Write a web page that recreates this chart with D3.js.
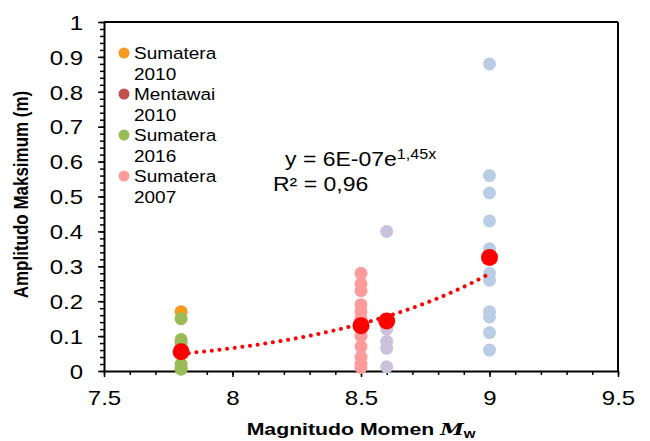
<!DOCTYPE html>
<html>
<head>
<meta charset="utf-8">
<script src="https://cdn.jsdelivr.net/npm/d3@7"></script>
<style>
  html, body { margin: 0; padding: 0; background: #fff; }
  svg { display: block; font-family: "Liberation Sans", Arial, sans-serif; }
</style>
</head>
<body>
<svg id="chart" width="650" height="441"></svg>
<script>
// Data
const sumatera2010 = [0.17];                                   // Mw 7.8
const mentawai2010 = [0.06];                                   // Mw 7.8 (hidden behind others)
const sumatera2016 = [0.15, 0.09, 0.08, 0.07, 0.06, 0.02, 0.01, 0.005]; // Mw 7.8
const sumatera2007 = [0.28, 0.25, 0.23, 0.19, 0.17, 0.15, 0.13, 0.10, 0.07, 0.04, 0.02, 0.01]; // Mw 8.5
const series86 = [0.40, 0.14, 0.12, 0.085, 0.065, 0.012];      // Mw 8.6
const series90 = [0.88, 0.56, 0.51, 0.43, 0.35, 0.34, 0.28, 0.26, 0.17, 0.155, 0.11, 0.06]; // Mw 9.0
const meanMw = [7.8, 8.5, 8.6, 9.0];
const meanAmp = [0.055, 0.13, 0.143, 0.325];
const trendA = 6e-7, trendB = 1.45;   // y = 6E-07 e^(1.45x)
const xTicks = [7.5, 8, 8.5, 9, 9.5];
const yTicks = [0, 0.1, 0.2, 0.3, 0.4, 0.5, 0.6, 0.7, 0.8, 0.9, 1];
const legendNames = [['Sumatera', '2010'], ['Mentawai', '2010'], ['Sumatera', '2016'], ['Sumatera', '2007']];

const svg = d3.select('#chart');
const x = d3.scaleLinear().domain([7.5, 9.5]).range([104, 618]);
const y = d3.scaleLinear().domain([0, 1]).range([371, 22]);
const fmt = d3.format('.1~f');
const SX = 1.2; // horizontal stretch of the text in the reference

const groups = [
  { mw: 7.8, vals: sumatera2010, color: '#f79a1e' },
  { mw: 7.8, vals: mentawai2010, color: '#c0504d' },
  { mw: 7.8, vals: sumatera2016, color: '#9bbb59' },
  { mw: 8.5, vals: sumatera2007, color: '#ff9b9b' },
  { mw: 8.6, vals: series86, color: '#ccc1da' },
  { mw: 9.0, vals: series90, color: '#b9cde5' }
];

// frame (top + right)
svg.append('line').attr('x1', x(7.5)).attr('x2', x(9.5)).attr('y1', y(1)).attr('y2', y(1))
  .attr('stroke', '#000').attr('stroke-width', 2);
svg.append('line').attr('x1', x(9.5)).attr('x2', x(9.5)).attr('y1', y(1)).attr('y2', y(0))
  .attr('stroke', '#000').attr('stroke-width', 2);

// minor ticks
svg.append('g').attr('transform', `translate(0,${y(0)})`)
  .call(d3.axisBottom(x).tickValues(d3.range(7.5, 9.51, 0.1)).tickSize(4).tickSizeOuter(0).tickFormat(''))
  .call(g => g.select('.domain').remove())
  .call(g => g.selectAll('line').attr('stroke', '#000').attr('stroke-width', 1.5));
svg.append('g').attr('transform', `translate(${x(7.5)},0)`)
  .call(d3.axisLeft(y).tickValues(d3.range(0, 1.001, 0.02)).tickSize(4).tickSizeOuter(0).tickFormat(''))
  .call(g => g.select('.domain').remove())
  .call(g => g.selectAll('line').attr('stroke', '#000').attr('stroke-width', 1.5));

// major axes
svg.append('g').attr('transform', `translate(0,${y(0)})`)
  .call(d3.axisBottom(x).tickValues(xTicks).tickSize(6).tickSizeOuter(0).tickFormat(fmt))
  .call(g => g.select('.domain').attr('stroke', '#000').attr('stroke-width', 2))
  .call(g => g.selectAll('line').attr('stroke', '#000').attr('stroke-width', 1.5))
  .call(g => g.selectAll('text').attr('y', 34).attr('dy', 0).attr('fill', '#000')
    .style('font-size', '20px').attr('transform', `scale(${SX},1)`));
svg.append('g').attr('transform', `translate(${x(7.5)},0)`)
  .call(d3.axisLeft(y).tickValues(yTicks).tickSize(6).tickSizeOuter(0).tickFormat(fmt))
  .call(g => g.select('.domain').attr('stroke', '#000').attr('stroke-width', 2))
  .call(g => g.selectAll('line').attr('stroke', '#000').attr('stroke-width', 1.5))
  .call(g => g.selectAll('text').attr('x', -21 / SX).attr('dy', '0.36em').attr('fill', '#000')
    .style('font-size', '20px').attr('transform', `scale(${SX},1)`));
svg.selectAll('.tick text').style('font-family', '"Liberation Sans", Arial, sans-serif');

// scatter points
groups.forEach(grp => {
  svg.append('g').selectAll('circle').data(grp.vals).enter().append('circle')
    .attr('cx', x(grp.mw)).attr('cy', d => y(d)).attr('r', 6.5).attr('fill', grp.color);
});

// trend line
const trendX = d3.range(7.8, 9.0001, 0.01);
svg.append('path').datum(trendX)
  .attr('d', d3.line().x(d => x(d)).y(d => y(trendA * Math.exp(trendB * d))))
  .attr('fill', 'none').attr('stroke', '#ff0000').attr('stroke-width', 4)
  .attr('stroke-linecap', 'round').attr('stroke-dasharray', '0.01,7.7');

// means
svg.append('g').selectAll('circle').data(meanMw).enter().append('circle')
  .attr('cx', d => x(d)).attr('cy', (d, i) => y(meanAmp[i])).attr('r', 8.5).attr('fill', '#ff0000');

// legend
const leg = svg.append('g');
legendNames.forEach((nm, i) => {
  const cy = 53 + i * 41;
  leg.append('circle').attr('cx', 124).attr('cy', cy).attr('r', 5.5).attr('fill', groups[i].color);
  nm.forEach((line, j) => {
    leg.append('text').attr('transform', `translate(134,${cy + 6 + j * 21}) scale(1.15,1)`)
      .style('font-size', '16.5px').attr('fill', '#000').text(line);
  });
});

// equation
const eq = svg.append('text').attr('transform', `translate(285,166) scale(1.15,1)`)
  .style('font-size', '20px').attr('fill', '#000');
eq.append('tspan').text('y = 6E-07e');
eq.append('tspan').attr('dy', -7).style('font-size', '14px').text('1,45x');
svg.append('text').attr('transform', `translate(273,191) scale(1.15,1)`)
  .style('font-size', '20px').attr('fill', '#000').text('R² = 0,96');

// axis titles
const xt = svg.append('text').attr('transform', `translate(${(x(7.5) + x(9.5)) / 2},435) scale(1.25,1)`)
  .attr('text-anchor', 'middle').style('font-size', '17px').style('font-weight', 'bold').attr('fill', '#000');
xt.append('tspan').text('Magnitudo Momen ');
xt.append('tspan').style('font-style', 'italic').style('font-family', '"DejaVu Serif", serif').text('M');
xt.append('tspan').attr('dy', 3).style('font-size', '12px').text('w');

svg.append('text').attr('transform', `translate(28,${(y(0) + y(1)) / 2 - 2}) rotate(-90) scale(1,1.15)`)
  .attr('text-anchor', 'middle').style('font-size', '17px').style('font-weight', 'bold').attr('fill', '#000')
  .text('Amplitudo Maksimum (m)');
</script>
</body>
</html>
